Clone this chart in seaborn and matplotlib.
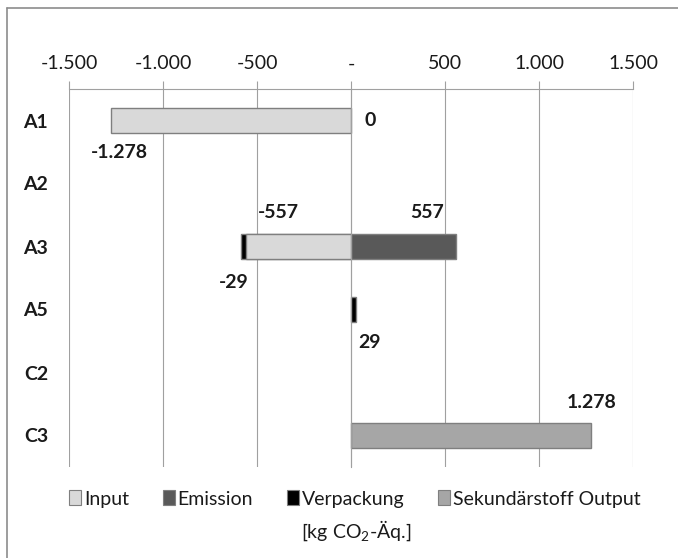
import matplotlib
matplotlib.use('Agg')
import matplotlib.pyplot as plt
from matplotlib.lines import Line2D
from matplotlib.patches import Patch
from matplotlib.ticker import FuncFormatter, MultipleLocator, FixedLocator
import numpy as np
import seaborn as sns

# Data (kg CO2-Äq.)
categories = ['A1', 'A2', 'A3', 'A5', 'C2', 'C3']
input_vals = [-1278, 0, -557, 0, 0, 0]
emission_vals = [0, 0, 557, 0, 0, 0]
verpackung_vals = [0, 0, -29, 29, 0, 0]
sekundaer_vals = [0, 0, 0, 0, 0, 1278]

series_names = ['Input', 'Emission', 'Verpackung', 'Sekundärstoff Output']
series_vals = [input_vals, emission_vals, verpackung_vals, sekundaer_vals]
colors = ['#d9d9d9', '#595959', '#000000', '#a6a6a6']

# label placement (pixel offsets from segment end: right, down)
label_offsets = {
    ('Input', 'A1'): (9, 32.5),
    ('Emission', 'A1'): (19.5, 0),
    ('Input', 'A3'): (32, -33.5),
    ('Emission', 'A3'): (-29, -34.5),
    ('Verpackung', 'A3'): (-7, 36.5),
    ('Verpackung', 'A5'): (13, 32.5),
    ('Sekundärstoff Output', 'C3'): (0, -32.5),
}

sns.set_theme(style='white')
plt.rcParams['font.family'] = ['Lato', 'DejaVu Sans']
plt.rcParams['mathtext.fontset'] = 'custom'
plt.rcParams['mathtext.rm'] = 'Lato'

FS = 14
grid_col = '#a0a0a0'
edge_col = '#7f7f7f'
text_col = '#1a1a1a'

fig = plt.figure(figsize=(6.78, 5.58), dpi=100)
ax = fig.add_axes([69 / 678, 1 - 467 / 558, (633 - 69) / 678, (467 - 89) / 558])

# stack positives and negatives separately
pos = np.zeros(len(categories))
neg = np.zeros(len(categories))
ends = []
for vals in series_vals:
    v = np.array(vals, dtype=float)
    e = np.where(v >= 0, pos + v, neg + v)
    pos = np.where(v > 0, pos + v, pos)
    neg = np.where(v < 0, neg + v, neg)
    ends.append(e)

# draw outer segments first, inner ones on top
for name, vals, e, c in reversed(list(zip(series_names, series_vals, ends, colors))):
    x = np.where(np.array(vals) != 0, e, np.nan)
    sns.barplot(x=x, y=categories, orient='h', color=c, edgecolor=edge_col,
                linewidth=1.0, width=0.4, errorbar=None, saturation=1, ax=ax)

ax.set_xlim(-1500, 1500)
ax.set_ylim(5.5, -0.5)

def fmt(v, pos=None):
    if v == 0:
        return '-'
    return f'{v:,.0f}'.replace(',', '.')

ax.xaxis.set_major_locator(MultipleLocator(500))
ax.xaxis.set_major_formatter(FuncFormatter(fmt))
ax.xaxis.tick_top()
ax.tick_params(axis='x', direction='out', length=6, width=0.8, color=grid_col,
               pad=6, labelsize=FS, labelcolor=text_col)
ax.grid(axis='x', color=grid_col, linewidth=0.8)
ax.set_axisbelow(True)

for s in ['right', 'bottom']:
    ax.spines[s].set_visible(False)
ax.spines['top'].set_color(grid_col)
ax.spines['top'].set_linewidth(0.8)
ax.spines['left'].set_position(('data', 0))
ax.spines['left'].set_color(grid_col)
ax.spines['left'].set_linewidth(0.8)
ax.spines['left'].set_zorder(3)

ax.yaxis.set_minor_locator(FixedLocator(np.arange(-0.5, 6, 1)))
ax.tick_params(axis='y', which='minor', direction='out', length=4.5, width=0.8,
               color=grid_col)
ax.tick_params(axis='y', which='major', length=0, pad=218, labelsize=FS,
               labelcolor=text_col)
for t in ax.get_yticklabels():
    t.set_fontweight('bold')
ax.set_xlabel('')
ax.set_ylabel('')

# data labels
for name, vals, e in zip(series_names, series_vals, ends):
    for i, cat in enumerate(categories):
        if (name, cat) not in label_offsets:
            continue
        dx, dy = label_offsets[(name, cat)]
        v = vals[i]
        txt = '0' if v == 0 else f'{v:,.0f}'.replace(',', '.')
        ax.annotate(txt, xy=(e[i], i), xytext=(dx * 0.72, -dy * 0.72),
                    textcoords='offset points', ha='center', va='center',
                    fontsize=FS, fontweight='bold', color=text_col)

handles = [Patch(facecolor=c, edgecolor=edge_col, linewidth=0.8) for c in colors]
fig.legend(handles, series_names, loc='center', ncol=4,
           bbox_to_anchor=(355 / 678, 1 - 499 / 558), frameon=False,
           fontsize=FS, handlelength=0.6, handleheight=0.8,
           handletextpad=0.15, columnspacing=1.75, labelcolor=text_col)
fig.text(356 / 678, 1 - 531 / 558, r'[kg CO$_2$-Äq.]', ha='center', va='center',
         fontsize=FS, color=text_col)

# chart frame (left and top edge visible in the crop)
fig.add_artist(Line2D([7 / 678, 7 / 678], [0, 1 - 8 / 558], color='#8c8c8c', lw=1.2))
fig.add_artist(Line2D([7 / 678, 1], [1 - 8 / 558, 1 - 8 / 558], color='#8c8c8c', lw=1.2))

fig.savefig('out.png', dpi=100)
